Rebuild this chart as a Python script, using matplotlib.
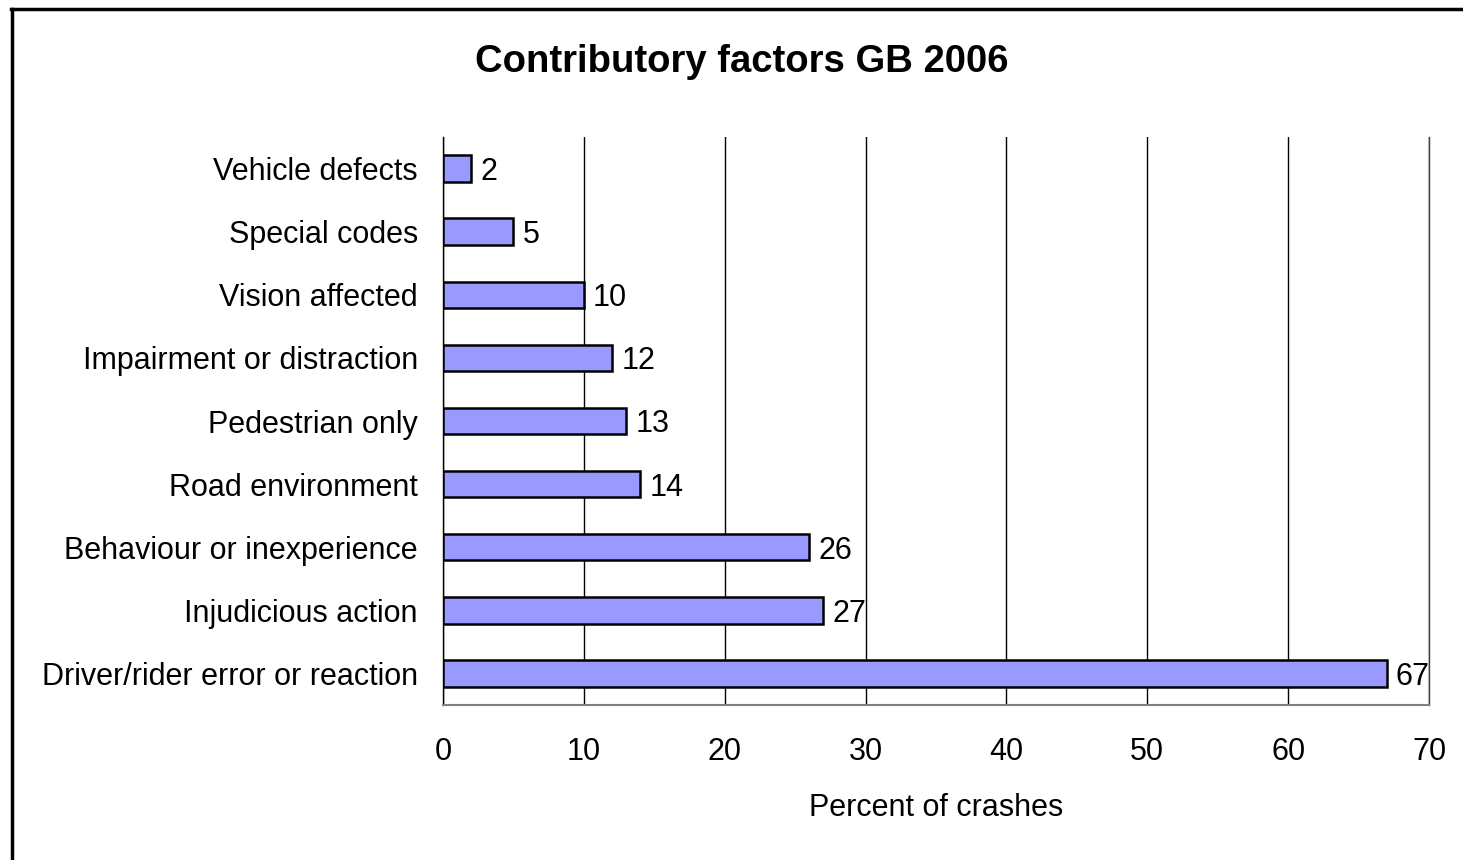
import matplotlib
matplotlib.use("Agg")
import matplotlib.pyplot as plt
from matplotlib.lines import Line2D

categories = [
    "Driver/rider error or reaction",
    "Injudicious action",
    "Behaviour or inexperience",
    "Road environment",
    "Pedestrian only",
    "Impairment or distraction",
    "Vision affected",
    "Special codes",
    "Vehicle defects",
]
values = [67, 27, 26, 14, 13, 12, 10, 5, 2]
x_ticks = [0, 10, 20, 30, 40, 50, 60, 70]

plt.rcParams["font.family"] = ["Liberation Sans", "DejaVu Sans"]

W, H = 1463, 860
fig = plt.figure(figsize=(W / 100, H / 100), dpi=100)
ax = fig.add_axes([443 / W, 1 - 705 / H, (1429 - 443) / W, (705 - 137) / H])

pos = range(len(categories))
ax.barh(pos, values, height=0.42, color="#9999FF", edgecolor="black",
        linewidth=1.8, zorder=3)
for p, v in zip(pos, values):
    ax.text(v + 0.65, p, str(v), va="center_baseline", ha="left",
            fontsize=22, zorder=4)

ax.set_xlim(0, 70)
ax.set_ylim(-0.5, len(categories) - 0.5)
ax.set_xticks(x_ticks)
ax.set_xticklabels([str(t) for t in x_ticks], fontsize=22)
ax.set_yticks(list(pos))
ax.set_yticklabels(categories, fontsize=22)
ax.tick_params(axis="both", length=0)
ax.tick_params(axis="x", pad=23)
ax.tick_params(axis="y", pad=18)
ax.xaxis.grid(True, color="black", linewidth=1.0, zorder=0)
ax.set_axisbelow(True)

ax.spines["top"].set_visible(False)
ax.spines["right"].set_color("#404040")
ax.spines["right"].set_linewidth(1.0)
ax.spines["left"].set_color("black")
ax.spines["left"].set_linewidth(1.0)
ax.spines["bottom"].set_color("#808080")
ax.spines["bottom"].set_linewidth(1.5)

ax.set_xlabel("Percent of crashes", fontsize=22, labelpad=19)

fig.text(742 / W, 1 - 62 / H, "Contributory factors GB 2006", ha="center",
         va="center", fontsize=27.5, fontweight="bold")

# Outer chart frame (top and left edges)
fig.add_artist(Line2D([11 / W, 1.0], [1 - 9 / H, 1 - 9 / H], color="black",
                      linewidth=2.5, transform=fig.transFigure))
fig.add_artist(Line2D([12 / W, 12 / W], [0.0, 1 - 9 / H], color="black",
                      linewidth=2.5, transform=fig.transFigure))

fig.savefig("out.png", dpi=100)
